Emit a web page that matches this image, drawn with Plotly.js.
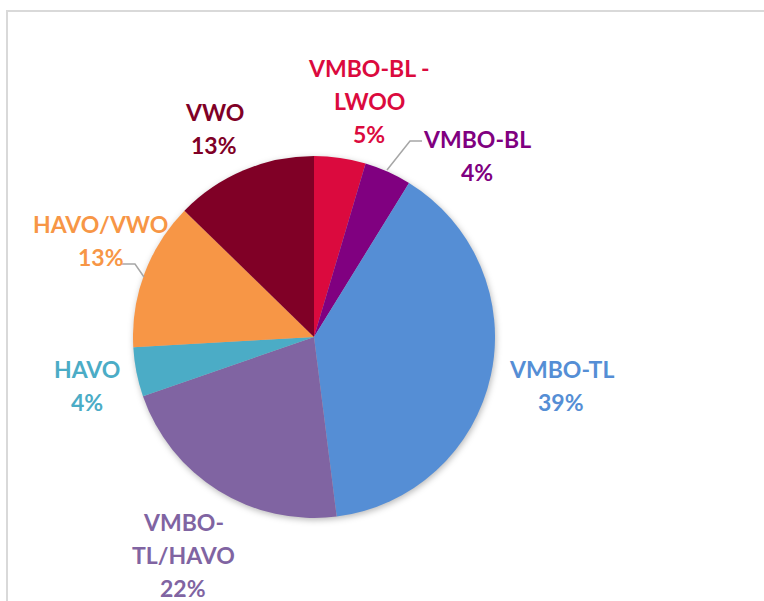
<!DOCTYPE html>
<html>
<head>
<meta charset="utf-8">
<script src="https://cdn.plot.ly/plotly-3.0.1.min.js"></script>
<style>
  html, body { margin: 0; padding: 0; background: #fff; }
  #wrap { position: relative; width: 764px; height: 601px; overflow: hidden; }
  #frame { position: absolute; left: 6px; top: 10px; width: 800px; height: 700px;
           border: 2px solid #D9D9D9; box-sizing: border-box; pointer-events: none; }
  #chart { position: absolute; left: 0; top: 0; width: 764px; height: 601px; }
  .pielayer .trace { filter: drop-shadow(1px 2px 3px rgba(0,0,0,0.28)); }
</style>
</head>
<body>
<div id="wrap">
  <div id="chart"></div>
  <div id="frame"></div>
</div>
<script>
// ---- data ----
const categories = ['VMBO-BL - LWOO', 'VMBO-BL', 'VMBO-TL', 'VMBO-TL/HAVO', 'HAVO', 'HAVO/VWO', 'VWO'];
const shares = [4.6, 4.2, 39.2, 21.7, 4.4, 13.2, 12.7];
const labelLines = [['VMBO-BL -', 'LWOO'], ['VMBO-BL'], ['VMBO-TL'], ['VMBO-', 'TL/HAVO'], ['HAVO'], ['HAVO/VWO'], ['VWO']];

// ---- styles / positions ----
const colors = ['#DB0A3E', '#800080', '#558ED5', '#8064A2', '#4BACC6', '#F79646', '#800026'];
const labelPos = [ // center x, first-line center y (pixels)
  [369, 68], [477, 139], [561, 369], [183, 522], [87, 369], [101, 224], [214, 112]
];
const lineGap = 33;
const W = 764, H = 601;
const cx = 314, cy = 337, r = 181;

const total = shares.reduce((a, b) => a + b, 0);
const annotations = [];
categories.forEach((c, i) => {
  const pct = Math.round(shares[i] / total * 100) + '%';
  const lines = labelLines[i].concat([pct]);
  lines.forEach((t, k) => {
    annotations.push({
      text: t, showarrow: false,
      xref: 'paper', yref: 'paper',
      x: labelPos[i][0] / W, y: 1 - (labelPos[i][1] + k * lineGap) / H,
      xanchor: 'center', yanchor: 'middle',
      font: { family: 'Lato, "Noto Sans", sans-serif', size: 23, color: colors[i], weight: 'bold' }
    });
  });
});

function px(x, y) { return [x / W, 1 - y / H]; }
const leaders = [
  [[387, 170], [410, 141], [422, 141]],
  [[144, 277], [135, 264], [122, 264]]
];
const shapes = leaders.map(pts => ({
  type: 'path', xref: 'paper', yref: 'paper',
  path: pts.map((p, j) => { const q = px(p[0], p[1]); return (j ? 'L' : 'M') + q[0] + ',' + q[1]; }).join(' '),
  line: { color: '#A6A6A6', width: 1.5 }
}));

const trace = {
  type: 'pie',
  labels: categories,
  values: shares,
  sort: false,
  direction: 'clockwise',
  rotation: 0,
  textinfo: 'none',
  hoverinfo: 'label+percent',
  marker: { colors: colors, line: { width: 0 } },
  domain: { x: [(cx - r) / W, (cx + r) / W], y: [1 - (cy + r) / H, 1 - (cy - r) / H] },
  showlegend: false
};

Plotly.newPlot('chart', [trace], {
  width: W, height: H,
  margin: { l: 0, r: 0, t: 0, b: 0 },
  paper_bgcolor: 'rgba(0,0,0,0)',
  plot_bgcolor: 'rgba(0,0,0,0)',
  showlegend: false,
  annotations: annotations,
  shapes: shapes
}, { displayModeBar: false, staticPlot: true });
</script>
</body>
</html>
